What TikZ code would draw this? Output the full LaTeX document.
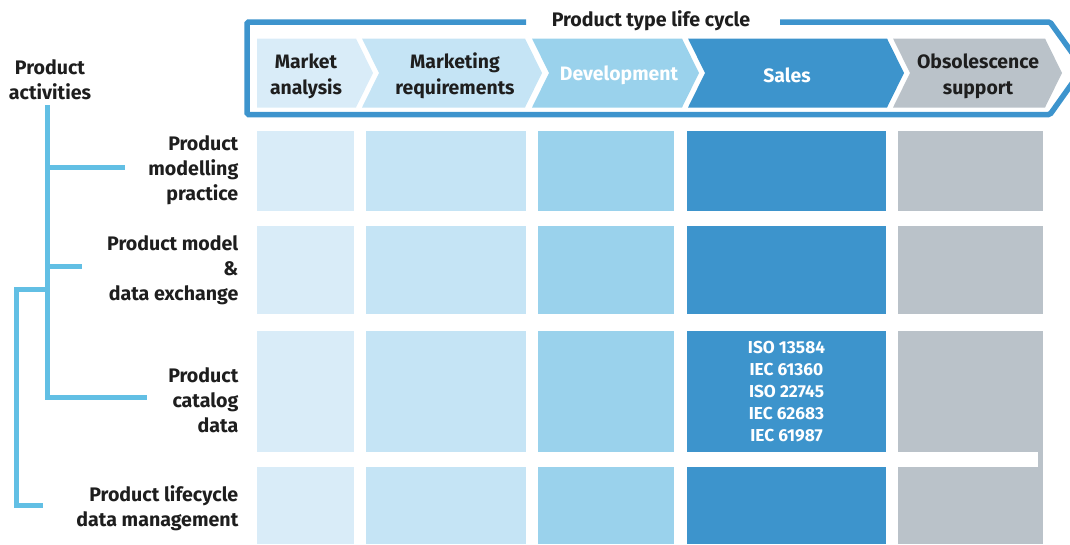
\documentclass[tikz,border=0pt]{standalone}
\usepackage{fontspec}
\setmainfont{Fira Sans}
\definecolor{cA}{HTML}{D9ECF8}
\definecolor{cB}{HTML}{C5E4F5}
\definecolor{cC}{HTML}{9AD2EC}
\definecolor{cD}{HTML}{3D94CC}
\definecolor{cE}{HTML}{BAC2C9}
\definecolor{frameblue}{HTML}{3D94CD}
\definecolor{brk}{HTML}{62BFE4}
\definecolor{txt}{HTML}{1E1E1E}
\tikzset{
  lbl/.style={font=\bfseries\fontsize{19.6}{25}\selectfont, text=txt, align=right, anchor=east, inner sep=0pt},
  chev/.style={font=\bfseries\fontsize{19.4}{26}\selectfont, align=center, inner sep=0pt},
  iso/.style={font=\bfseries\fontsize{17.3}{22}\selectfont, text=white, align=center, inner sep=0pt},
}
\begin{document}
\begin{tikzpicture}[x=1pt,y=-1pt]
\useasboundingbox (0,0) rectangle (1070,544);
\clip (0,0) rectangle (1070,544);
% frame
\draw[frameblue, line width=5.5pt, rounded corners=1.5pt] (526,22) -- (247,22) -- (247,114.5) -- (1050,114.5) -- (1083,68) -- (1050,22) -- (780,22);
\node[font=\bfseries\fontsize{19.6}{22}\selectfont, text=txt, inner sep=0pt] (title) at (651,20.5) {Product type life cycle};
% chevrons
\fill[cA] (257,38.5) -- (356,38.5) -- (373,73) -- (356,107.5) -- (257,107.5) -- cycle;
\fill[cB] (362,38.5) -- (525,38.5) -- (542,73) -- (525,107.5) -- (362,107.5) -- (379,73) -- cycle;
\fill[cC] (532,38.5) -- (682,38.5) -- (699,73) -- (682,107.5) -- (532,107.5) -- (549,73) -- cycle;
\fill[cD] (688,38.5) -- (887,38.5) -- (904,73) -- (887,107.5) -- (688,107.5) -- (705,73) -- cycle;
\fill[cE] (893,38.5) -- (1045,38.5) -- (1062,73) -- (1045,107.5) -- (893,107.5) -- (910,73) -- cycle;
\node[chev, text=txt] (ma) at (306,76) {Market\\analysis};
\node[chev, text=txt] (mr) at (455,76) {Marketing\\requirements};
\node[chev, text=white] (dev) at (619,75.5) {Development};
\node[chev, text=white] (sal) at (787,75.5) {Sales};
\node[chev, text=txt] (obs) at (978,76) {Obsolescence\\support};
% grid
\foreach \ya/\yb in {131/211, 226/314, 331/452, 467/544}{
  \fill[cA] (257,\ya) rectangle (354,\yb);
  \fill[cB] (366,\ya) rectangle (526,\yb);
  \fill[cC] (538,\ya) rectangle (674,\yb);
  \fill[cD] (687,\ya) rectangle (886,\yb);
}
\fill[cE] (898,131) rectangle (1043,211);
\fill[cE] (898,226) rectangle (1043,314);
\fill[cE] (898,331) rectangle (1043,544);
\fill[white] (898,452) rectangle (1038,467);
\node[iso] (std) at (786.5,391.5) {ISO 13584\\IEC 61360\\ISO 22745\\IEC 62683\\IEC 61987};
% left labels
\node[font=\bfseries\fontsize{19.6}{25}\selectfont, text=txt, align=center, inner sep=0pt] (pa) at (50,80) {Product\\activities};
\node[lbl] (l1) at (238.5,170.5) {Product\\modelling\\practice};
\node[lbl] (l2) at (238.5,270) {Product model\\\&\\data exchange};
\node[lbl] (l3) at (238.5,400) {Product\\catalog\\data};
\node[lbl] (l4) at (238.5,508.5) {Product lifecycle\\data management};
% brackets
\coordinate (t0) at (47.5,105);
\coordinate (t1) at (47.5,397.5);
\coordinate (t2) at (146.5,397.5);
\coordinate (b1s) at (47.5,167.5);
\coordinate (b1e) at (125,167.5);
\coordinate (b2s) at (47.5,266.5);
\coordinate (b2e) at (81.5,266.5);
\coordinate (s0) at (47.5,289.5);
\coordinate (s1) at (16,289.5);
\coordinate (s2) at (16,505);
\coordinate (s3) at (42.5,505);
\draw[brk, line width=5pt] (t0) -- (t1) -- (t2);
\draw[brk, line width=5pt] (b1s) -- (b1e);
\draw[brk, line width=5pt] (b2s) -- (b2e);
\draw[brk, line width=5pt] (s0) -- (s1) -- (s2) -- (s3);
\end{tikzpicture}
\end{document}
